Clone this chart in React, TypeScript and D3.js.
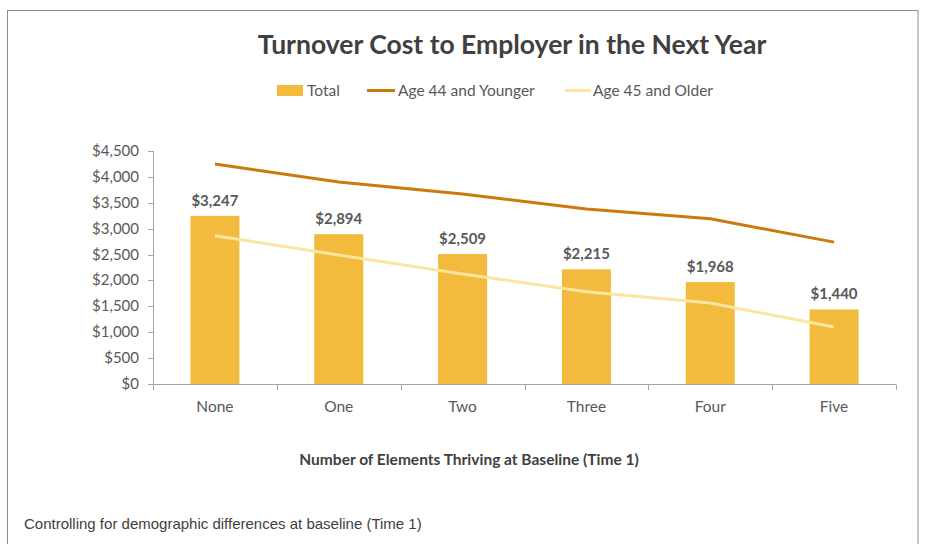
import React from "react";
import * as d3 from "d3";

const categories = ["None", "One", "Two", "Three", "Four", "Five"];
const totalValues = [3247, 2894, 2509, 2215, 1968, 1440];
const youngerValues = [4250, 3900, 3670, 3380, 3190, 2740];
const olderValues = [2865, 2490, 2125, 1780, 1565, 1100];
const yTicks = [0, 500, 1000, 1500, 2000, 2500, 3000, 3500, 4000, 4500];

const FONT = "Lato, 'Open Sans', sans-serif";
const BAR = "#F2BB3D";
const DARK = "#CC7A0E";
const LIGHT = "#FCE59F";
const TEXT = "#595959";
const AXIS = "#A6A6A6";

export default function App() {
  const W = 925, H = 544;
  const x = d3.scaleBand<string>().domain(categories).range([153, 896]).paddingInner(0).paddingOuter(0);
  const y = d3.scaleLinear().domain([0, 4500]).range([384, 151]);
  const bw = 49;
  const cx = (c: string) => (x(c) as number) + x.bandwidth() / 2;
  const fmt = (v: number) => "$" + d3.format(",")(v);
  const line = d3.line<number>().x((_, i) => cx(categories[i])).y((d) => y(d));

  return (
    <svg width={W} height={H} style={{ position: "absolute", left: 0, top: 0 }}>
      <rect x={0} y={0} width={W} height={H} fill="#fff" />
      <rect x={7.5} y={10.5} width={910.5} height={560} fill="#fff" stroke="#8c8c8c" strokeWidth={1} />
      <text x={512} y={54} textAnchor="middle" fontFamily={FONT} fontWeight={700} fontSize={26.5} fill="#404040">
        Turnover Cost to Employer in the Next Year
      </text>
      {/* legend */}
      <rect x={277} y={85} width={26} height={11} fill={BAR} />
      <text x={307} y={96} fontFamily={FONT} fontSize={15.5} fill={TEXT}>Total</text>
      <line x1={367} x2={395} y1={90.5} y2={90.5} stroke={DARK} strokeWidth={3} />
      <text x={398} y={96} fontFamily={FONT} fontSize={15.5} fill={TEXT}>Age 44 and Younger</text>
      <line x1={565} x2={591} y1={90.5} y2={90.5} stroke={LIGHT} strokeWidth={3} />
      <text x={593} y={96} fontFamily={FONT} fontSize={15.5} fill={TEXT}>Age 45 and Older</text>

      {/* y axis */}
      <line x1={153.5} x2={153.5} y1={y(4500)} y2={y(0)} stroke={AXIS} />
      {yTicks.map((t) => (
        <g key={t}>
          <line x1={148} x2={153.5} y1={Math.round(y(t)) + 0.5} y2={Math.round(y(t)) + 0.5} stroke={AXIS} />
          <text x={139} y={y(t) + 5} textAnchor="end" fontFamily={FONT} fontSize={15} fill={TEXT}>
            {fmt(t)}
          </text>
        </g>
      ))}
      {/* bars */}
      {categories.map((c, i) => (
        <rect key={c} x={cx(c) - bw / 2} y={y(totalValues[i])} width={bw} height={y(0) - y(totalValues[i])} fill={BAR} />
      ))}
      {/* x axis */}
      <line x1={153} x2={896} y1={384.5} y2={384.5} stroke={AXIS} />
      {[...categories.map((c) => x(c) as number), 896].map((t, i) => (
        <line key={i} x1={Math.round(t) + 0.5} x2={Math.round(t) + 0.5} y1={384.5} y2={390} stroke={AXIS} />
      ))}
      {categories.map((c) => (
        <text key={c} x={cx(c)} y={412} textAnchor="middle" fontFamily={FONT} fontSize={15.5} fill={TEXT}>
          {c}
        </text>
      ))}
      {/* lines */}
      <path d={line(youngerValues) || ""} fill="none" stroke={DARK} strokeWidth={3} />
      <path d={line(olderValues) || ""} fill="none" stroke={LIGHT} strokeWidth={3} />
      {/* data labels */}
      {categories.map((c, i) => (
        <text key={c} x={cx(c)} y={y(totalValues[i]) - 10} textAnchor="middle" fontFamily={FONT} fontWeight={700} fontSize={15} fill={TEXT}>
          {fmt(totalValues[i])}
        </text>
      ))}
      <text x={469} y={465} textAnchor="middle" fontFamily={FONT} fontWeight={700} fontSize={15.5} fill="#404040">
        Number of Elements Thriving at Baseline (Time 1)
      </text>
      <text x={24} y={529} fontFamily="'Liberation Sans', Arial, sans-serif" fontSize={15} fill="#404040">
        Controlling for demographic differences at baseline (Time 1)
      </text>
    </svg>
  );
}
